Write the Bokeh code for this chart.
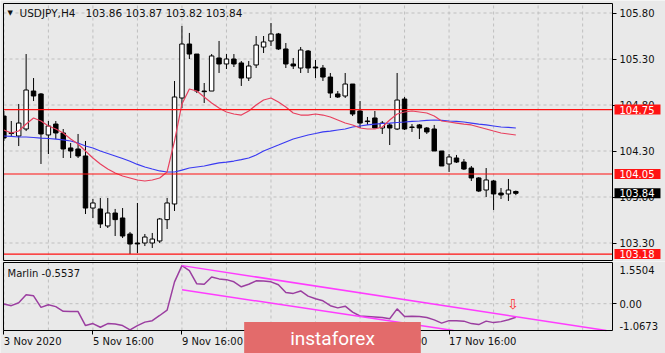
from bokeh.plotting import figure
from bokeh.models import (Range1d, FixedTicker, LinearAxis, Label,
                          ColumnDataSource, PrintfTickFormatter)
from bokeh.layouts import column
from bokeh.embed import file_html
from bokeh.resources import INLINE
from bokeh.core.properties import value

# ---------------- data ----------------
symbol = "USDJPY,H4"
header_ohlc = ["103.86", "103.87", "103.82", "103.84"]

opens = [104.680, 104.500, 104.463, 104.539, 104.952, 104.920, 104.474, 104.593, 104.496, 104.333,
         104.322, 104.246, 103.680, 103.670, 103.485, 103.626, 103.572, 103.398, 103.300, 103.300,
         103.300, 103.322, 103.554, 103.724, 104.876, 105.463, 105.354, 104.952, 104.952, 105.311,
         105.246, 105.300, 105.257, 105.093, 105.235, 105.430, 105.496, 105.572, 105.409, 105.246,
         105.202, 105.387, 105.213, 105.202, 105.104, 104.920, 104.898, 105.028, 104.735, 104.626,
         104.659, 104.550, 104.583, 104.539, 104.865, 104.561, 104.583, 104.550, 104.539, 104.300,
         104.159, 104.224, 104.180, 104.115, 104.007, 103.876, 103.974, 103.843, 103.833, 103.860]
highs = [104.735, 104.626, 104.811, 105.354, 105.093, 104.930, 104.626, 104.626, 104.539, 104.387,
         104.485, 104.409, 103.778, 103.789, 103.789, 103.670, 103.680, 103.420, 103.735, 103.398,
         103.409, 103.572, 103.789, 105.061, 105.659, 105.583, 105.354, 105.039, 105.354, 105.496,
         105.354, 105.354, 105.278, 105.278, 105.550, 105.550, 105.691, 105.583, 105.474, 105.311,
         105.430, 105.398, 105.289, 105.235, 105.148, 104.952, 105.148, 105.028, 104.843, 104.670,
         104.735, 104.626, 104.604, 105.148, 104.887, 104.593, 104.593, 104.561, 104.583, 104.300,
         104.267, 104.257, 104.213, 104.137, 104.017, 104.115, 103.985, 103.898, 103.996, 103.870]
lows = [104.409, 104.463, 104.354, 104.517, 104.843, 104.159, 104.267, 104.430, 104.224, 104.224,
        104.224, 103.615, 103.572, 103.463, 103.463, 103.376, 103.354, 103.180, 103.191, 103.267,
        103.246, 103.300, 103.452, 103.648, 104.767, 105.300, 104.930, 104.822, 104.952, 105.148,
        105.191, 105.213, 105.007, 105.061, 105.202, 105.365, 105.441, 105.398, 105.202, 105.191,
        105.148, 105.148, 105.093, 105.061, 104.876, 104.876, 104.876, 104.680, 104.550, 104.583,
        104.550, 104.485, 104.365, 104.528, 104.528, 104.507, 104.430, 104.485, 104.300, 104.137,
        104.072, 104.170, 104.093, 103.974, 103.854, 103.800, 103.659, 103.778, 103.757, 103.820]
closes = [104.441, 104.490, 104.604, 104.963, 104.898, 104.485, 104.572, 104.496, 104.322, 104.300,
          104.246, 103.680, 103.735, 103.507, 103.626, 103.554, 103.376, 103.289, 103.290, 103.365,
          103.343, 103.561, 103.735, 104.887, 105.463, 105.354, 104.952, 104.945, 105.333, 105.246,
          105.300, 105.246, 105.093, 105.224, 105.452, 105.485, 105.572, 105.409, 105.246, 105.224,
          105.398, 105.202, 105.202, 105.104, 104.930, 104.887, 105.028, 104.702, 104.604, 104.620,
          104.550, 104.604, 104.550, 104.854, 104.539, 104.556, 104.550, 104.507, 104.300, 104.137,
          104.235, 104.180, 104.104, 104.007, 103.865, 103.985, 103.833, 103.822, 103.876, 103.840]

ma_fast = [104.528, 104.496, 104.517, 104.593, 104.659, 104.626, 104.572, 104.539, 104.496, 104.430,
           104.376, 104.300, 104.224, 104.159, 104.104, 104.061, 104.028, 104.007, 103.985, 103.974,
           103.985, 104.007, 104.072, 104.409, 104.811, 104.974, 104.952, 104.887, 104.822, 104.767,
           104.724, 104.702, 104.691, 104.735, 104.800, 104.854, 104.876, 104.833, 104.778, 104.713,
           104.691, 104.691, 104.702, 104.691, 104.670, 104.637, 104.604, 104.583, 104.550, 104.539,
           104.539, 104.561, 104.637, 104.702, 104.724, 104.735, 104.724, 104.713, 104.680, 104.626,
           104.615, 104.604, 104.593, 104.583, 104.561, 104.539, 104.517, 104.496, 104.485, 104.474]
ma_slow = [104.463, 104.458, 104.452, 104.452, 104.447, 104.441, 104.436, 104.430, 104.420, 104.409,
           104.387, 104.354, 104.333, 104.300, 104.273, 104.246, 104.218, 104.189, 104.154, 104.126,
           104.104, 104.083, 104.072, 104.072, 104.093, 104.115, 104.126, 104.137, 104.154, 104.170,
           104.180, 104.191, 104.207, 104.224, 104.257, 104.300, 104.333, 104.365, 104.398, 104.430,
           104.452, 104.474, 104.490, 104.507, 104.517, 104.528, 104.539, 104.561, 104.572, 104.583,
           104.593, 104.599, 104.604, 104.610, 104.615, 104.621, 104.626, 104.632, 104.637, 104.632,
           104.626, 104.621, 104.615, 104.604, 104.593, 104.583, 104.572, 104.561, 104.556, 104.550]

marlin = [-0.01, -0.08, 0.04, 0.36, 0.32, -0.15, -0.04, -0.12, -0.31, -0.32,
          -0.32, -0.89, -0.81, -0.96, -0.81, -0.83, -0.89, -1.0673, -0.89, -0.75,
          -0.69, -0.48, -0.26, 0.89, 1.5504, 1.35, 0.81, 0.79, 1.09, 1.01,
          0.98, 0.89, 0.69, 0.79, 0.93, 0.92, 0.89, 0.77, 0.46, 0.42,
          0.52, 0.31, 0.20, 0.12, -0.08, -0.17, -0.10, -0.34, -0.50, -0.52,
          -0.54, -0.56, -0.61, -0.21, -0.52, -0.51, -0.52, -0.56, -0.66, -0.79,
          -0.69, -0.69, -0.71, -0.81, -0.85, -0.71, -0.77, -0.73, -0.65, -0.5537]
marlin_max = 1.5504
marlin_min = -1.0673
marlin_last = -0.5537

channel_upper_x = [24, 81.2]
channel_upper_y = [1.5504, -1.09]
channel_lower_x = [24, 60.6]
channel_lower_y = [0.566, -1.09]
signal_bar = 68.6
signal_value = -0.03

levels = [104.75, 104.05, 103.18]
last_price = 103.84
price_ticks = [103.30, 103.80, 104.30, 104.80, 105.30, 105.80]
time_tick_bars = [0, 12, 24, 36, 48, 60]
time_tick_labels = ["3 Nov 2020", "5 Nov 16:00", "9 Nov 16:00", "11 Nov 16:00",
                    "13 Nov 16:00", "17 Nov 16:00"]
grid_bars = list(range(0, 84, 6))

# ---------------- geometry / style ----------------
BG = "#e9e9e9"
FONT = "DejaVu Sans"
TXT = "#111111"
GRID = "#bfbfbf"
LEVEL_RED = "#ff1010"
BOX_RED = "#ff1414"

W = 665
PX_PER_BAR = 7.42
X0 = -0.05 - 3 / PX_PER_BAR            # data x at the canvas' left edge
def bx(px):                            # canvas pixel -> bar units
    return X0 + px / PX_PER_BAR
BAR_L, BAR_R = bx(3), bx(612)          # panel borders

H1 = 261
PX_PER_PRICE = 92.0
P0 = 105.9359                          # price at the canvas' top edge
def py(px):
    return P0 - px / PX_PER_PRICE
P_TOP, P_BOT = py(3), py(260)

H2 = 92
PX_PER_UNIT = 24.56
def vy(page_px):                       # page pixel -> indicator units
    return (303.2 - page_px) / PX_PER_UNIT
V_TOP, V_BOT = vy(262), vy(330)

def text_w(s):                         # DejaVu Sans 10px advance widths
    tbl = {" ": 3.18, "N": 7.48, "o": 6.12, "v": 5.92, ":": 3.37}
    return sum(tbl.get(c, 6.36) for c in s)

bars = list(range(len(closes)))
src = ColumnDataSource(dict(
    x=bars, h=highs, l=lows,
    top=[max(o, c) for o, c in zip(opens, closes)],
    bottom=[min(o, c) for o, c in zip(opens, closes)],
    fill=["white" if c >= o else "black" for o, c in zip(opens, closes)],
))

xr = Range1d(X0, bx(W))

def axis_style(ax):
    ax.axis_line_color = None
    ax.minor_tick_line_color = None
    ax.major_tick_line_color = "black"
    ax.major_tick_in = 0
    ax.major_label_text_font = FONT
    ax.major_label_text_font_size = "10px"
    ax.major_label_text_color = TXT

# ---------------- main price panel ----------------
p = figure(width=W, height=H1, x_range=xr, y_range=Range1d(py(H1), P0),
           toolbar_location=None, output_backend="svg",
           x_axis_location=None, y_axis_location=None,
           min_border_left=0, min_border_right=0, min_border_top=0, min_border_bottom=0,
           background_fill_color=BG, border_fill_color=BG, outline_line_color=None)
p.grid.visible = False

p.segment(x0=grid_bars, x1=grid_bars, y0=[P_BOT] * len(grid_bars), y1=[P_TOP] * len(grid_bars),
          line_color=GRID, line_dash="3 3", line_width=1)
p.segment(x0=[BAR_L] * len(price_ticks), x1=[BAR_R] * len(price_ticks), y0=price_ticks, y1=price_ticks,
          line_color=GRID, line_dash="3 3", line_width=1)

p.segment(x0="x", y0="l", x1="x", y1="h", source=src, line_color="black", line_width=1)
p.vbar(x="x", top="top", bottom="bottom", width=0.6, source=src,
       fill_color="fill", line_color="black", line_width=1)

p.line(bars, ma_slow, line_color="#3a3af2", line_width=1.2)
p.line(bars, ma_fast, line_color="#e8405e", line_width=1.2)

p.segment(x0=[BAR_L] * len(levels), x1=[BAR_R] * len(levels), y0=levels, y1=levels,
          line_color=LEVEL_RED, line_width=1.2)

# hide what sticks out left of the panel, then the panel border
p.quad(left=[X0], right=[BAR_L], top=[P0], bottom=[py(H1)], fill_color=BG, line_color=None)
p.quad(left=[BAR_L], right=[BAR_R], top=[P_TOP], bottom=[P_BOT], fill_color=None,
       line_color="black", line_width=1)

ay = LinearAxis(ticker=FixedTicker(ticks=price_ticks), formatter=PrintfTickFormatter(format="%.2f"),
                fixed_location=BAR_R, major_tick_out=4, major_label_standoff=3)
axis_style(ay)
p.add_layout(ay, "right")

box_x = bx(614)
box_pad = dict(left=5, right=6, top=1, bottom=1)
for lv in levels:
    p.add_layout(Label(x=box_x, y=lv, text=f"{lv:.2f}", text_color="white",
                       text_font=FONT, text_font_size="10px", text_baseline="middle",
                       text_align="left", background_fill_color=BOX_RED, padding=box_pad))
p.add_layout(Label(x=box_x, y=last_price, text=f"{last_price:.2f}", text_color="white",
                   text_font=FONT, text_font_size="10px", text_baseline="middle",
                   text_align="left", background_fill_color="black", padding=box_pad))

p.add_layout(Label(x=bx(7), y=py(12), text="\u25BC", text_font=FONT, text_font_size="7px",
                   text_baseline="middle", text_align="left", text_color=TXT))
p.add_layout(Label(x=bx(19), y=py(12),
                   text=symbol + "\u00a0\u00a0 " + " ".join(header_ohlc),
                   text_font=FONT, text_font_size="10.5px", text_baseline="middle",
                   text_align="left", text_color=TXT))

# ---------------- indicator panel ----------------
q = figure(width=W, height=H2, x_range=xr, y_range=Range1d(vy(261 + H2), vy(261)),
           toolbar_location=None, output_backend="svg",
           x_axis_location=None, y_axis_location=None,
           min_border_left=0, min_border_right=0, min_border_top=0, min_border_bottom=0,
           background_fill_color=BG, border_fill_color=BG, outline_line_color=None)
q.grid.visible = False

q.segment(x0=grid_bars, x1=grid_bars, y0=[V_BOT] * len(grid_bars), y1=[V_TOP] * len(grid_bars),
          line_color=GRID, line_dash="3 3", line_width=1)
q.segment(x0=[BAR_L], x1=[BAR_R], y0=[0], y1=[0], line_color=GRID, line_dash="3 3", line_width=1)

q.line(bars, marlin, line_color="#9b3ea0", line_width=1.5)
q.line(channel_upper_x, channel_upper_y, line_color="#ff3cff", line_width=1.5)
q.line(channel_lower_x, channel_lower_y, line_color="#ff3cff", line_width=1.5)
q.text(x=[signal_bar], y=[signal_value], text=["\u21E9"], text_font=value(FONT),
       text_font_size="14px", text_color="#ff3030", text_align="center", text_baseline="middle")

q.quad(left=[X0], right=[BAR_L], top=[vy(261)], bottom=[vy(261 + H2)], fill_color=BG, line_color=None)
q.quad(left=[BAR_L], right=[BAR_R], top=[V_TOP], bottom=[V_BOT], fill_color=None,
       line_color="black", line_width=1)

qy = LinearAxis(ticker=FixedTicker(ticks=[0]), formatter=PrintfTickFormatter(format="%.2f"),
                fixed_location=BAR_R, major_tick_out=4, major_label_standoff=3)
axis_style(qy)
q.add_layout(qy, "right")
q.add_layout(Label(x=bx(619), y=marlin_max, text=f"{marlin_max:.4f}", text_font=FONT,
                   text_font_size="10px", text_baseline="top", text_align="left", text_color=TXT))
q.add_layout(Label(x=bx(619), y=marlin_min, text=f"{marlin_min:.4f}", text_font=FONT,
                   text_font_size="10px", text_baseline="bottom", text_align="left", text_color=TXT))

# time axis: tick marks at the bars, labels starting at the tick (MT4 style)
qt = LinearAxis(ticker=FixedTicker(ticks=time_tick_bars), fixed_location=V_BOT,
                major_tick_out=4)
axis_style(qt)
qt.major_label_text_color = None
q.add_layout(qt, "below")

label_centers = [b + text_w(t) / 2 / PX_PER_BAR for b, t in zip(time_tick_bars, time_tick_labels)]
ql = LinearAxis(ticker=FixedTicker(ticks=label_centers), fixed_location=V_BOT,
                major_label_overrides={c: t for c, t in zip(label_centers, time_tick_labels)},
                major_tick_out=0, major_label_standoff=5)
axis_style(ql)
ql.major_tick_line_color = None
q.add_layout(ql, "below")

q.add_layout(Label(x=bx(7), y=vy(273), text=f"Marlin {marlin_last:.4f}", text_font=FONT,
                   text_font_size="10px", text_baseline="middle", text_align="left", text_color=TXT))

q.add_layout(Label(x=bx(332), y=vy(337.5), text="instaforex", text_font="Roboto",
                   text_font_size="19px", text_color="white", text_align="center",
                   text_baseline="middle", background_fill_color="#e36b6b",
                   padding=dict(left=46, right=46, top=5, bottom=4)))

layout = column(p, q, spacing=0)
open("out.html", "w").write(file_html(layout, INLINE))
